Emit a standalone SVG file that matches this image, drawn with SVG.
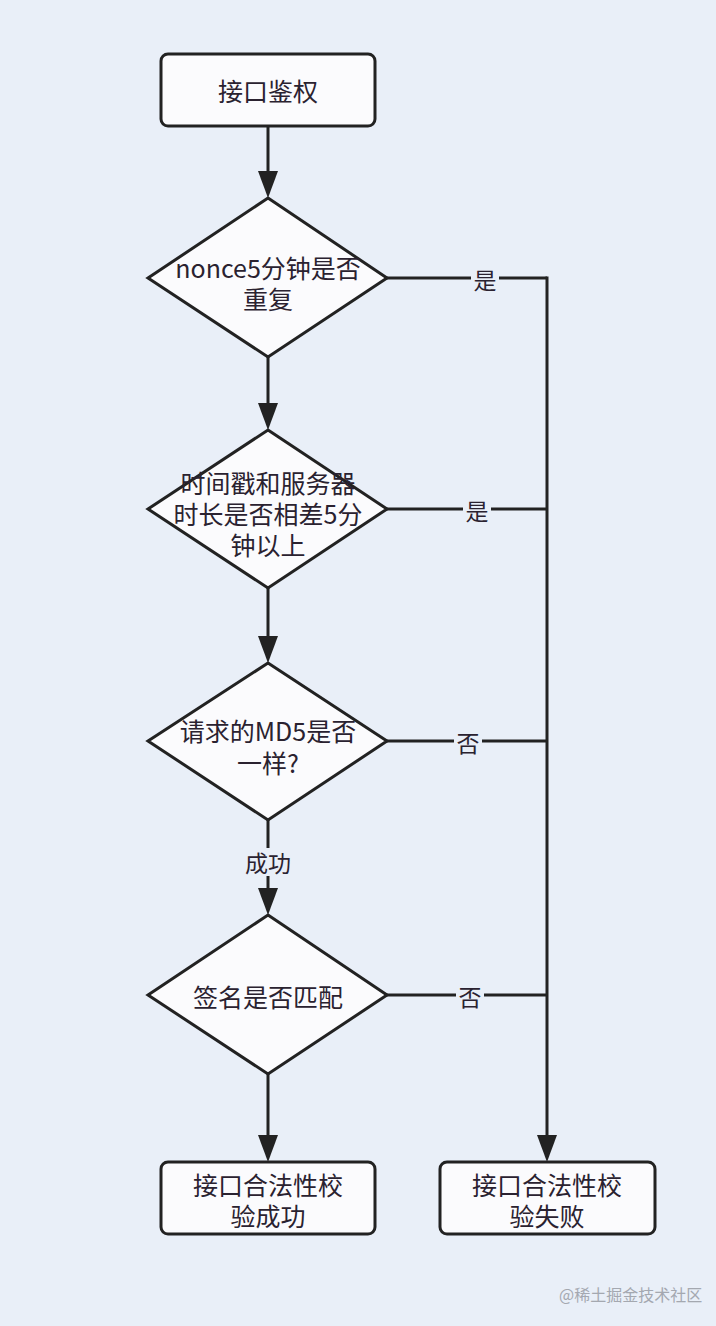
<svg xmlns="http://www.w3.org/2000/svg" width="716" height="1326" viewBox="0 0 716 1326">
<style>
.bg{fill:#e9eff8}
.box{fill:#fbfbfd;stroke:#222;stroke-width:3}
.t{font-family:"Noto Sans CJK SC","Noto Sans",sans-serif;font-size:25px;fill:#2a2230;text-anchor:middle;dominant-baseline:central}
.lbl{font-family:"Noto Sans CJK SC","Noto Sans",sans-serif;font-size:23px;fill:#2a2230;text-anchor:middle;dominant-baseline:central}
.line{fill:none;stroke:#222;stroke-width:3}
.lb{fill:#e9eff8}
.wm{font-family:"Noto Sans CJK SC","Noto Sans",sans-serif;font-size:16px;fill:#a4a8b0;text-anchor:start;dominant-baseline:central}
</style>
<rect class="bg" x="0" y="0" width="716" height="1326"/>
<g id="connectors">
<line class="line" x1="268" y1="126" x2="268" y2="171"/>
<path d="M258,171 L278,171 L268,198 Z" fill="#222"/>
<line class="line" x1="268" y1="357" x2="268" y2="403"/>
<path d="M258,403 L278,403 L268,430 Z" fill="#222"/>
<line class="line" x1="268" y1="588" x2="268" y2="636"/>
<path d="M258,636 L278,636 L268,663 Z" fill="#222"/>
<line class="line" x1="268" y1="820" x2="268" y2="888"/>
<path d="M258,888 L278,888 L268,915 Z" fill="#222"/>
<line class="line" x1="268" y1="1074" x2="268" y2="1135"/>
<path d="M258,1135 L278,1135 L268,1162 Z" fill="#222"/>
<line class="line" x1="387" y1="278" x2="547" y2="278"/>
<line class="line" x1="387" y1="509" x2="547" y2="509"/>
<line class="line" x1="387" y1="741" x2="547" y2="741"/>
<line class="line" x1="387" y1="995" x2="547" y2="995"/>
<line class="line" x1="547" y1="276.5" x2="547" y2="1135"/>
<path d="M537,1135 L557,1135 L547,1162 Z" fill="#222"/>
<rect class="lb" x="471" y="264" width="28" height="28"/>
<text class="lbl" x="485" y="279">是</text>
<rect class="lb" x="463" y="495" width="28" height="28"/>
<text class="lbl" x="477" y="510">是</text>
<rect class="lb" x="454" y="727" width="28" height="28"/>
<text class="lbl" x="468" y="742">否</text>
<rect class="lb" x="456" y="981" width="28" height="28"/>
<text class="lbl" x="470" y="996">否</text>
<rect class="lb" x="238" y="848" width="60" height="28"/>
<text class="lbl" x="268" y="862">成功</text>
</g>
<g id="start">
<rect class="box" x="161" y="54" width="214" height="72" rx="7"/>
<text class="t" x="268" y="90">接口鉴权</text>
</g>
<g id="d1">
<polygon class="box" points="268,198 387,278 268,357 148,278"/>
<text class="t" x="268" y="267">nonce5分钟是否<tspan x="268" dy="31">重复</tspan></text>
</g>
<g id="d2">
<polygon class="box" points="268,430 387,509 268,588 148,509"/>
<text class="t" x="268" y="482">时间戳和服务器<tspan x="268" dy="31">时长是否相差5分</tspan><tspan x="268" dy="31">钟以上</tspan></text>
</g>
<g id="d3">
<polygon class="box" points="268,663 387,741 268,820 148,741"/>
<text class="t" x="268" y="730">请求的MD5是否<tspan x="268" dy="32">一样?</tspan></text>
</g>
<g id="d4">
<polygon class="box" points="268,915 387,995 268,1074 148,995"/>
<text class="t" x="268" y="996">签名是否匹配</text>
</g>
<g id="ok">
<rect class="box" x="161" y="1162" width="214" height="72" rx="7"/>
<text class="t" x="268" y="1184">接口合法性校<tspan x="268" dy="31">验成功</tspan></text>
</g>
<g id="fail">
<rect class="box" x="440" y="1162" width="215" height="72" rx="7"/>
<text class="t" x="547" y="1184">接口合法性校<tspan x="547" dy="31">验失败</tspan></text>
</g>
<text class="wm" x="559" y="1294">@稀土掘金技术社区</text>
</svg>
